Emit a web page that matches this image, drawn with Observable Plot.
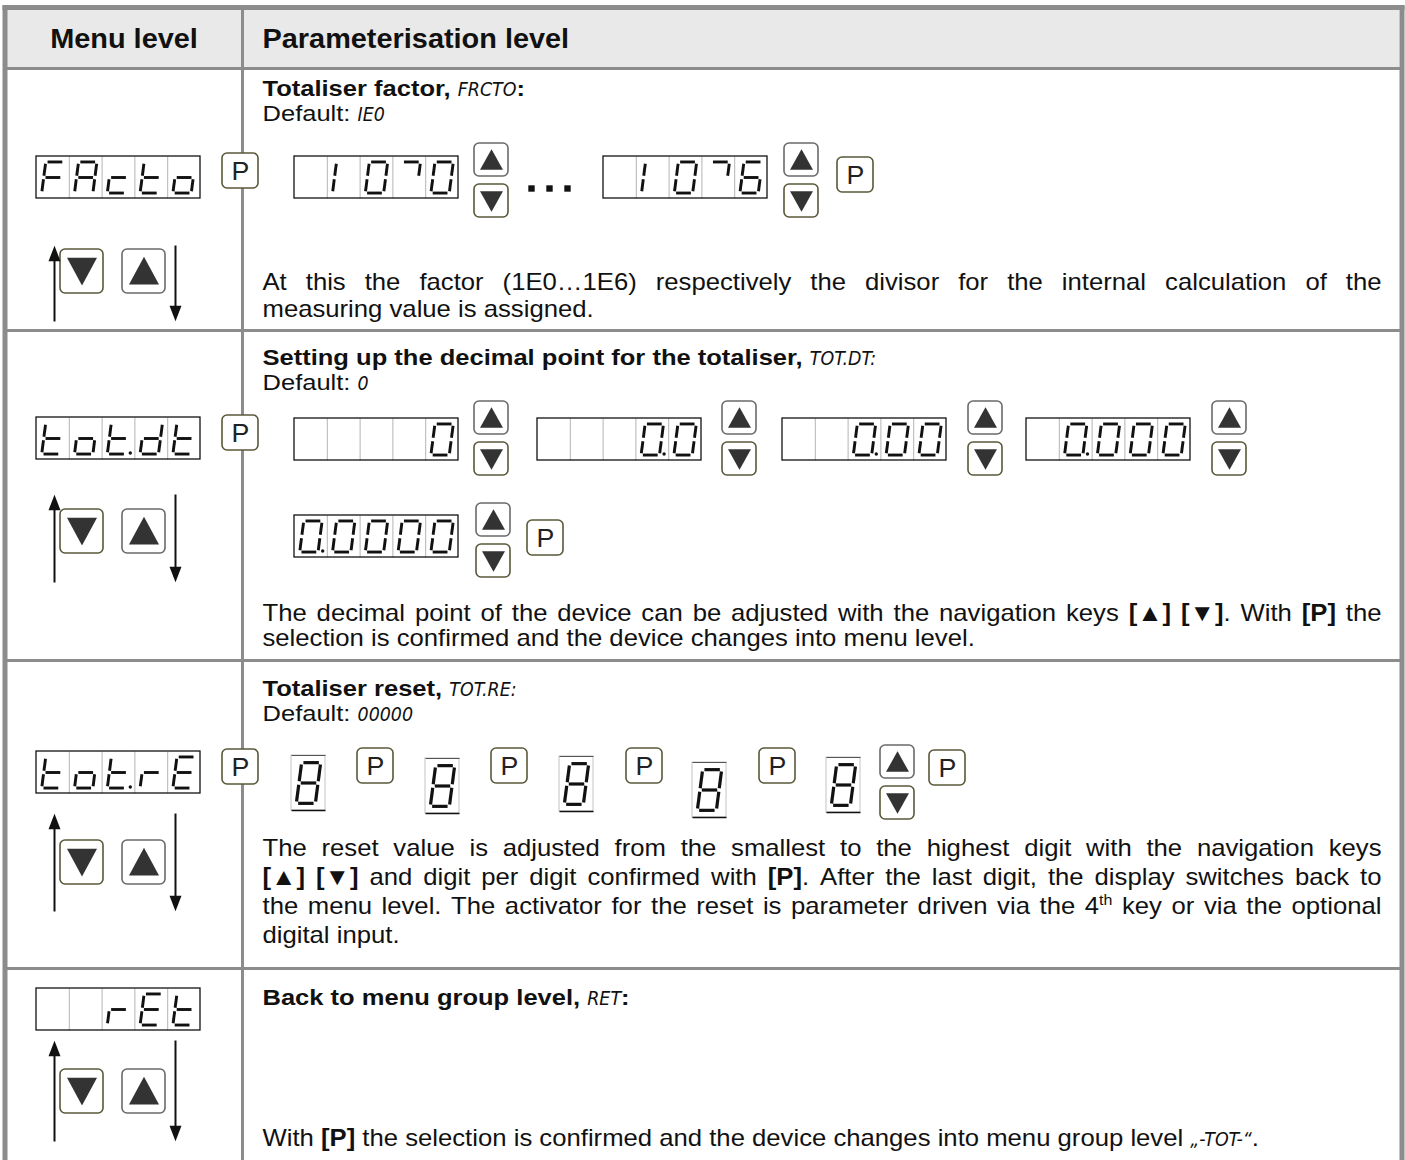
<!DOCTYPE html>
<html><head><meta charset="utf-8">
<script src="https://cdn.jsdelivr.net/npm/d3@7"></script>
<script src="https://cdn.jsdelivr.net/npm/@observablehq/plot@0.6"></script>
<style>body{margin:0;background:#fff}</style>
</head><body><div id="chart"></div>
<script>
// ---------------- DATA ----------------
const columnHeaders = ["Menu level", "Parameterisation level"];
const menuCodes = ["FActo", "tot.dt", "tot.rE", "  rEt"];
const rowTitles = [
  "**Totaliser factor,** _FRCTO_**:**",
  "**Setting up the decimal point for the totaliser,** _TOT.DT:_",
  "**Totaliser reset,** _TOT.RE:_",
  "**Back to menu group level,** _RET_**:**"
];
const rowDefaults = ["Default: _IE0_", "Default: _0_", "Default: _00000_"];
const factorSteps = [" 10^0", " 10^6"];
const decimalSteps = ["    0", "   0.0", "  0.00", " 0.000", "0.0000"];
const resetDigits = ["8", "8", "8", "8", "8"];
const notesFactor = [
  "At this the factor (1E0…1E6) respectively the divisor for the internal calculation of the",
  "measuring value is assigned."
];
const notesDecimal = [
  "The decimal point of the device can be adjusted with the navigation keys **[▲] [▼]**. With **[P]** the",
  "selection is confirmed and the device changes into menu level."
];
const notesReset = [
  "The reset value is adjusted from the smallest to the highest digit with the navigation keys",
  "**[▲] [▼]** and digit per digit confirmed with **[P]**. After the last digit, the display switches back to",
  "the menu level. The activator for the reset is parameter driven via the 4^th^ key or via the optional",
  "digital input."
];
const notesReturn = [
  "With **[P]** the selection is confirmed and the device changes into menu group level _„-TOT-“_."
];
const keyLabel = "P";

// ---------------- LAYOUT ----------------
const W = 1405, H = 1160;
const DW = 164, DH = 42;
const rowLines = [68, 330, 660, 968];
const colDivider = 242;
const menuDisplayPos = [[36,156],[36,417],[36,751],[36,988]];
const menuPPos = [[222,153],[222,415],[222,749]];
const menuKeyTop = [249, 509, 840, 1069];
const arrowSpan = [[245,321],[494,582],[813,911],[1040,1141]];
const factorPos = [[294,156],[603,156]];
const decimalPos = [[294,418],[537,418],[782,418],[1026,418],[294,515]];
const resetPos = [[291,755],[425,758],[559,756],[692,762],[826,757]];
const upDownPos = [[474,143],[784,143],[474,401],[722,401],[968,401],[1212,401],[476,503],[880,745]];
const pPos = [[837,157],[527,520],[357,748],[491,748],[626,748],[759,748],[929,750]];
const ellipsisX = [531, 549, 567], ellipsisY = 188;
const textX = 262, textRight = 1381;
const titleY = [95, 364, 695, 1004];
const defaultY = [120, 389, 720];
const noteY = [[289,316],[620,645],[855,884,913,942],[1145]];

// ---------------- HELPERS ----------------
const SANS = "'Liberation Sans', Arial, sans-serif";
const SEGF = "'DejaVu Sans Condensed', 'DejaVu Sans', sans-serif";
// size = glyph height, sx = horizontal stretch of the glyphs as in the source document
const ST = {
  r: {size:24, sx:1.07, weight:"normal", style:"normal", family:SANS},
  b: {size:24, sx:1.07, weight:"bold", style:"normal", family:SANS},
  h: {size:27, sx:1.07, weight:"bold", style:"normal", family:SANS},
  t: {size:22, sx:1.16, weight:"bold", style:"normal", family:SANS},
  d: {size:22.01, sx:1.16, weight:"normal", style:"normal", family:SANS},
  s: {size:20, sx:0.97, weight:"normal", style:"italic", family:SEGF},
  u: {size:15, sx:1.07, weight:"normal", style:"normal", family:SANS, dy:-9}
};
const ctx = document.createElement("canvas").getContext("2d");
function measure(t, k) { const s = ST[k]; ctx.font = `${s.style} ${s.weight} ${s.size}px ${s.family}`; return ctx.measureText(t).width * s.sx; }
function parse(m, base, bold) {
  return m.split(/(\*\*[^*]+\*\*|_[^_]+_|\^[^^]+\^)/).filter(d => d).map(p => {
    if (p.startsWith("**")) return {text:p.slice(2,-2), k:bold};
    if (p.startsWith("_")) return {text:p.slice(1,-1), k:"s"};
    if (p.startsWith("^")) return {text:p.slice(1,-1), k:"u"};
    return {text:p, k:base};
  });
}
const texts = [];
function layoutLine(markup, x0, y, justify, base = "r", bold = "b") {
  const tokens = []; let cur = null, pend = false;
  for (const run of parse(markup, base, bold)) {
    run.text.split(" ").forEach((p, i) => {
      if (i > 0) { if (cur) tokens.push(cur); cur = null; pend = true; }
      if (p) { if (!cur) { cur = {space:pend, pieces:[]}; pend = false; } cur.pieces.push({text:p, k:run.k}); }
    });
  }
  if (cur) tokens.push(cur);
  tokens[0].space = false;
  let sw = measure(" ", base);
  const natural = d3.sum(tokens, t => d3.sum(t.pieces, p => measure(p.text, p.k)) + (t.space ? sw : 0));
  const gaps = tokens.filter(t => t.space).length;
  if (justify && gaps) sw += (justify - natural) / gaps;
  let x = x0;
  for (const t of tokens) {
    if (t.space) x += sw;
    for (const p of t.pieces) { texts.push({x, y: y + (ST[p.k].dy || 0), text:p.text, k:p.k}); x += measure(p.text, p.k); }
  }
}

const SEG = {"0":"abcdef","1":"ef","6":"acdefg","8":"abcdefg","F":"aefg","A":"abcefg","c":"deg","t":"defg","o":"cdeg","d":"bcdeg","r":"eg","E":"adefg","^":"ab"," ":""};
const ENDS = {a:[[-1,-1],[1,-1]], b:[[1,-1],[1,0]], c:[[1,0],[1,1]], d:[[-1,1],[1,1]], e:[[-1,0],[-1,1]], f:[[-1,-1],[-1,0]], g:[[-1,0],[1,0]]};
function cells(str) { const out = []; for (const ch of str) { if (ch === "." && out.length) out[out.length-1].dp = true; else out.push({ch, dp:false}); } return out; }
const boxes = [], singleBoxes = [], dividers = [], segs = [], bigSegs = [], dps = [];
function glyph(c, cx, cy, cw, h, target) {
  const hw = cw * 0.28, hh = h * 0.37, sl = 0.13, g = 1.8;
  const P = (px, py) => [cx + px - sl * py, cy + py];
  for (const s of SEG[c.ch] || "") {
    let [[x1,y1],[x2,y2]] = ENDS[s];
    x1 *= hw; x2 *= hw; y1 *= hh; y2 *= hh;
    const dx = x2 - x1, dy = y2 - y1, L = Math.hypot(dx, dy);
    x1 += dx/L*g; y1 += dy/L*g; x2 -= dx/L*g; y2 -= dy/L*g;
    const [X1,Y1] = P(x1,y1), [X2,Y2] = P(x2,y2);
    target.push({x1:X1, y1:Y1, x2:X2, y2:Y2});
  }
  if (c.dp) { const [X,Y] = P(hw + 4.5, hh - 1); dps.push({x:X, y:Y}); }
}
function display(str, x, y) {
  const cs = cells(str), cw = DW / cs.length;
  boxes.push({x1:x, x2:x+DW, y1:y, y2:y+DH});
  for (let i = 1; i < cs.length; i++) dividers.push({x1:x+i*cw, x2:x+i*cw, y1:y, y2:y+DH});
  cs.forEach((c, i) => glyph(c, x + i*cw + cw/2, y + DH/2, cw, DH, segs));
}

// ---------------- BUILD ----------------
menuCodes.forEach((m, i) => display(m, ...menuDisplayPos[i]));
factorSteps.forEach((m, i) => display(m, ...factorPos[i]));
decimalSteps.forEach((m, i) => display(m, ...decimalPos[i]));
resetDigits.forEach((m, i) => {
  const [x, y] = resetPos[i], w = 34, h = 55;
  singleBoxes.push({x1:x, x2:x+w, y1:y, y2:y+h});
  glyph({ch:m, dp:false}, x + w/2, y + h/2, w, h, bigSegs);
});

const pButtons = [], upButtons = [], downButtons = [], triUp = [], triDown = [], bigTriUp = [], bigTriDown = [];
[...menuPPos, ...pPos].forEach(([x, y]) => pButtons.push({x1:x, x2:x+36, y1:y, y2:y+35, label:keyLabel}));
upDownPos.forEach(([x, y]) => {
  upButtons.push({x1:x, x2:x+34, y1:y, y2:y+33}); triUp.push({x:x+17, y:y+16});
  downButtons.push({x1:x, x2:x+34, y1:y+41, y2:y+74}); triDown.push({x:x+17, y:y+58});
});
const arrowsUp = [], arrowsDown = [], arrowHeadsUp = [], arrowHeadsDown = [];
menuKeyTop.forEach((y, i) => {
  downButtons.push({x1:60, x2:103, y1:y, y2:y+44}); bigTriDown.push({x:81.5, y:y+22});
  upButtons.push({x1:122, x2:165, y1:y, y2:y+44}); bigTriUp.push({x:143.5, y:y+21});
  const [t, b] = arrowSpan[i];
  arrowsUp.push({x1:54, x2:54, y1:b, y2:t+12}); arrowHeadsUp.push({x:54, y:t+8});
  arrowsDown.push({x1:175, x2:175, y1:t, y2:b-12}); arrowHeadsDown.push({x:175, y:b-8});
});

texts.push({x:123.5, y:47, text:columnHeaders[0], k:"h", anchor:"middle"});
texts.push({x:textX, y:47, text:columnHeaders[1], k:"h"});
rowTitles.forEach((t, i) => layoutLine(t, textX, titleY[i], null, "t", "t"));
rowDefaults.forEach((t, i) => layoutLine(t, textX, defaultY[i], null, "d", "t"));
[notesFactor, notesDecimal, notesReset, notesReturn].forEach((lines, r) => {
  lines.forEach((l, j) => layoutLine(l, textX, noteY[r][j], j < lines.length - 1 ? textRight - textX : null));
});

const triSym = k => ({draw(c, size) { const r = Math.sqrt(size / Math.PI), h = r * k; c.moveTo(0, -h/2); c.lineTo(r, h/2); c.lineTo(-r, h/2); c.closePath(); }});

const GRID = "#8c8c8c", OLIVE = "#5a5838", KEYGRAY = "#6a6a6a", TRI = "#333";
const gridLines = [
  ...rowLines.map(y => ({x1:6, x2:1400, y1:y, y2:y})),
  {x1:colDivider, x2:colDivider, y1:8, y2:H}
];
const frame = [{x1:4.5, x2:4.5, y1:5, y2:H}, {x1:1401.5, x2:1401.5, y1:5, y2:H}, {x1:2, x2:1404, y1:7, y2:7}];

const textMarks = Object.keys(ST).map(k => Plot.text(texts.filter(d => d.k === k && !d.anchor), {
  x:"x", y:"y", text:"text", textAnchor:"start", lineAnchor:"bottom", fill:"#111",
  fontSize:ST[k].size, fontWeight:ST[k].weight, fontStyle:ST[k].style, fontFamily:ST[k].family
}));

const chart = Plot.plot({
  width:W, height:H, margin:0,
  x:{domain:[0,W], range:[0,W], axis:null},
  y:{domain:[0,H], range:[0,H], axis:null},
  style:{background:"#fff", overflow:"visible"},
  marks:[
    Plot.rect([{x1:7, x2:1399, y1:9, y2:67}], {x1:"x1", x2:"x2", y1:"y1", y2:"y2", fill:"#e9e9e9"}),
    Plot.link(gridLines, {x1:"x1", x2:"x2", y1:"y1", y2:"y2", stroke:GRID, strokeWidth:3}),
    Plot.link(frame, {x1:"x1", x2:"x2", y1:"y1", y2:"y2", stroke:GRID, strokeWidth:5}),
    Plot.rect(boxes, {x1:"x1", x2:"x2", y1:"y1", y2:"y2", fill:"#fff"}),
    Plot.link(dividers, {x1:"x1", x2:"x2", y1:"y1", y2:"y2", stroke:"#b4b4b4", strokeWidth:1}),
    Plot.rect(boxes, {x1:"x1", x2:"x2", y1:"y1", y2:"y2", stroke:"#111", strokeWidth:1.3, fill:"none"}),
    Plot.rect(singleBoxes, {x1:"x1", x2:"x2", y1:"y1", y2:"y2", stroke:"#c4c4c4", strokeWidth:1, fill:"#fff"}),
    Plot.link(singleBoxes, {x1:"x1", x2:"x2", y1:"y2", y2:"y2", stroke:"#111", strokeWidth:1.3}),
    Plot.link(singleBoxes, {x1:"x1", x2:"x2", y1:"y1", y2:"y1", stroke:"#555", strokeWidth:1}),
    Plot.link(segs, {x1:"x1", x2:"x2", y1:"y1", y2:"y2", stroke:"#111", strokeWidth:2.9, strokeLinecap:"butt"}),
    Plot.link(bigSegs, {x1:"x1", x2:"x2", y1:"y1", y2:"y2", stroke:"#111", strokeWidth:3.2, strokeLinecap:"butt"}),
    Plot.dot(dps, {x:"x", y:"y", r:1.7, fill:"#111"}),
    Plot.rect(pButtons, {x1:"x1", x2:"x2", y1:"y1", y2:"y2", rx:5, fill:"#fff", stroke:OLIVE, strokeWidth:1.6}),
    Plot.rect(upButtons, {x1:"x1", x2:"x2", y1:"y1", y2:"y2", rx:5, fill:"#fff", stroke:KEYGRAY, strokeWidth:1.6}),
    Plot.rect(downButtons, {x1:"x1", x2:"x2", y1:"y1", y2:"y2", rx:5, fill:"#fff", stroke:OLIVE, strokeWidth:1.6}),
    Plot.dot(triUp, {x:"x", y:"y", r:11.5, symbol:triSym(1.8), fill:TRI, stroke:null}),
    Plot.dot(triDown, {x:"x", y:"y", r:11.5, symbol:triSym(1.8), rotate:180, fill:TRI, stroke:null}),
    Plot.dot(bigTriUp, {x:"x", y:"y", r:15, symbol:triSym(1.85), fill:TRI, stroke:null}),
    Plot.dot(bigTriDown, {x:"x", y:"y", r:15, symbol:triSym(1.85), rotate:180, fill:TRI, stroke:null}),
    Plot.link([...arrowsUp, ...arrowsDown], {x1:"x1", x2:"x2", y1:"y1", y2:"y2", stroke:"#111", strokeWidth:2}),
    Plot.dot(arrowHeadsUp, {x:"x", y:"y", r:6, symbol:triSym(2.6), fill:"#111", stroke:null}),
    Plot.dot(arrowHeadsDown, {x:"x", y:"y", r:6, symbol:triSym(2.6), rotate:180, fill:"#111", stroke:null}),
    Plot.dot(ellipsisX.map(x => ({x, y:ellipsisY})), {x:"x", y:"y", r:3.6, symbol:"square", fill:"#111", stroke:null}),
    Plot.text(pButtons, {x:d => (d.x1 + d.x2) / 2, y:d => (d.y1 + d.y2) / 2 + 1, text:"label", fontSize:25, fontFamily:SANS, fill:"#222"}),
    Plot.text(texts.filter(d => d.anchor), {x:"x", y:"y", text:"text", textAnchor:"middle", lineAnchor:"bottom", fill:"#111", fontSize:ST.h.size, fontWeight:"bold", fontFamily:SANS}),
    ...textMarks
  ]
});
// horizontal stretch of the glyphs per text style, as in the source document
const sxBySize = new Map(Object.values(ST).map(s => [String(s.size), s.sx]));
chart.querySelectorAll("text").forEach(t => {
  const g = t.closest("[font-size]");
  const sx = (g && sxBySize.get(g.getAttribute("font-size"))) || 1.07;
  const tr = t.getAttribute("transform");
  if (tr) t.setAttribute("transform", tr + ` scale(${sx},1)`);
  else {
    const x = +t.getAttribute("x") || 0, y = +t.getAttribute("y") || 0;
    t.removeAttribute("x"); t.removeAttribute("y");
    t.setAttribute("transform", `translate(${x},${y}) scale(${sx},1)`);
  }
});
document.getElementById("chart").appendChild(chart);
</script></body></html>
